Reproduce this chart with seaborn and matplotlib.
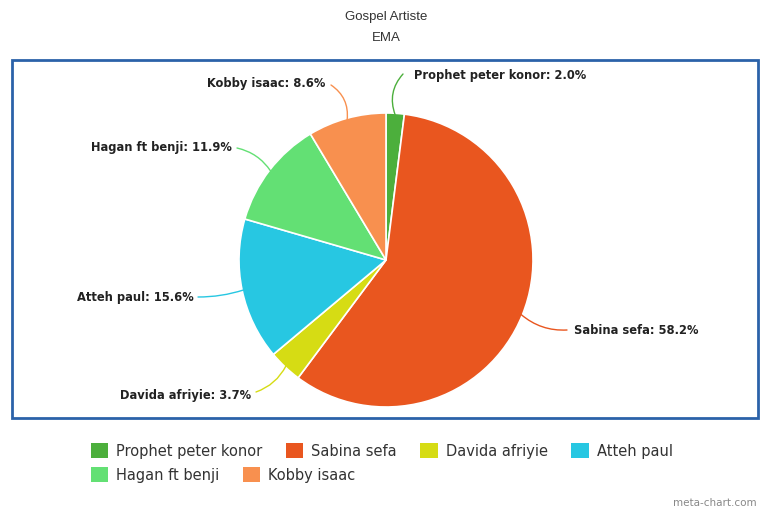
import numpy as np
import matplotlib
matplotlib.use("Agg")
import matplotlib.pyplot as plt
from matplotlib.patches import Rectangle, Patch
import seaborn as sns

# ---- data ----
categories = ["Prophet peter konor", "Sabina sefa", "Davida afriyie",
              "Atteh paul", "Hagan ft benji", "Kobby isaac"]
values = [2.0, 58.2, 3.7, 15.6, 11.9, 8.6]
colors = ["#4caf3c", "#e9561f", "#d6dc14", "#27c7e2", "#63e074", "#f8904f"]
title_lines = ["Gospel Artiste", "EMA"]

sns.set_theme(style="white")
plt.rcParams["font.family"] = ["Liberation Sans", "DejaVu Sans"]

W, H = 770, 513
fig = plt.figure(figsize=(W / 100, H / 100), dpi=100)
fig.patch.set_facecolor("white")

# pixel layout of the pie
CX, CY, R = 386, 260, 147
ax = fig.add_axes([0, 0, 1, 1])
palette = sns.color_palette(colors)
wedges, _ = ax.pie(values, colors=palette, startangle=90, counterclock=False,
                   radius=1.0, center=(0, 0),
                   wedgeprops=dict(edgecolor="white", linewidth=1.2))
ax.set_aspect("auto")
ax.set_xlim(-CX / R, (W - CX) / R)
ax.set_ylim(-(H - CY) / R, CY / R)
ax.axis("off")


def p2d(px, py):
    return ((px - CX) / R, (CY - py) / R)


# label layout (pixel coords of line end, text anchor, alignment, curvature)
label_layout = {
    "Prophet peter konor": ((403, 74), (414, 76), "left", 0.3),
    "Sabina sefa": ((567, 330), (574, 331), "left", -0.2),
    "Davida afriyie": ((256, 392), (251, 395), "right", 0.2),
    "Atteh paul": ((198, 297), (194, 298), "right", 0.08),
    "Hagan ft benji": ((237, 148), (232, 148), "right", -0.2),
    "Kobby isaac": ((331, 85), (325, 84), "right", -0.3),
}

total = sum(values)
angle = 90.0
for cat, val, col in zip(categories, values, colors):
    span = 360.0 * val / total
    mid = np.deg2rad(angle - span / 2)
    angle -= span
    xy = (0.99 * np.cos(mid), 0.99 * np.sin(mid))
    (lx, ly), (tx, ty), ha, rad = label_layout[cat]
    ax.annotate("", xy=xy, xytext=p2d(lx, ly),
                arrowprops=dict(arrowstyle="-", color=col, lw=1.0,
                                shrinkA=0, shrinkB=0,
                                connectionstyle=f"arc3,rad={rad}"))
    ax.text(*p2d(tx, ty), f"{cat}: {val:.1f}%", ha=ha, va="center",
            fontsize=8.3, fontweight="bold", color="#222222",
            family="DejaVu Sans")

# border box
fig.patches.append(Rectangle((12 / W, 1 - 418 / H), (758 - 12) / W, (418 - 60) / H,
                             transform=fig.transFigure, fill=False,
                             edgecolor="#2b62a9", linewidth=2.0))

# titles
fig.text(386 / W, 1 - 17 / H, title_lines[0], ha="center", va="center",
         fontsize=9.5, color="#333333")
fig.text(386 / W, 1 - 38 / H, title_lines[1], ha="center", va="center",
         fontsize=9.5, color="#333333")

# legend (flow layout: two rows)
handles = [Patch(facecolor=c, edgecolor="none") for c in colors]
leg_kw = dict(frameon=False, prop={"family": "DejaVu Sans", "size": 10.5},
              handlelength=1.2, handleheight=1.2, handletextpad=0.55,
              columnspacing=1.6, borderaxespad=0, labelcolor="#333333")
leg1 = fig.legend(handles[:4], categories[:4], ncol=4, loc="center left",
                  bbox_to_anchor=(85 / W, 1 - 451 / H), **leg_kw)
leg2 = fig.legend(handles[4:], categories[4:], ncol=2, loc="center left",
                  bbox_to_anchor=(85 / W, 1 - 475 / H), **leg_kw)

fig.text(757 / W, 1 - 503 / H, "meta-chart.com", ha="right", va="center",
         fontsize=7.5, color="#888888", family="DejaVu Sans")

fig.savefig("out.png", dpi=100, facecolor="white")
